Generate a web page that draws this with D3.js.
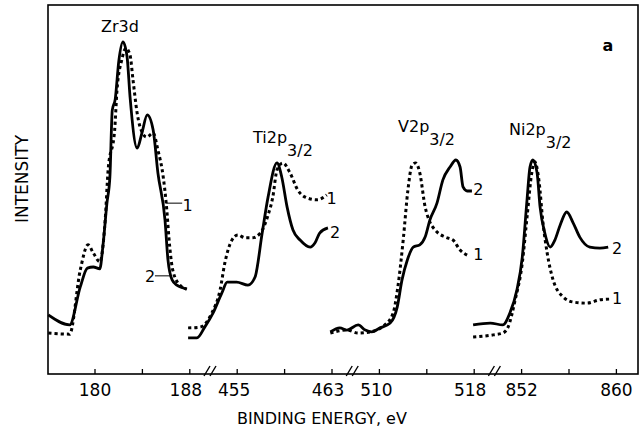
<!DOCTYPE html>
<html>
<head>
<meta charset="utf-8">
<script src="https://cdn.jsdelivr.net/npm/d3@7"></script>
<style>
  html, body { margin: 0; padding: 0; background: #fff; }
  svg { display: block; font-family: "DejaVu Sans", sans-serif; }
</style>
</head>
<body>
<svg id="chart" width="641" height="433"></svg>
<script>
// ---------- DATA ----------
const panelNames = ["Zr3d", "Ti2p", "V2p", "Ni2p"];
const panelSubs = ["", "3/2", "3/2", "3/2"];
const zrTicks = [180, 184, 188];
const tiTicks = [455, 459, 463];
const vTicks = [510, 514, 518];
const niTicks = [852, 856, 860];
const labeledTicks = [180, 188, 455, 463, 510, 518, 852, 860];

// [binding energy (eV), intensity (arb. units)]
const zrCurve1 = [[176.1,11.1],[177.9,10.8],[178.8,28.2],[179.45,35.0],[179.9,32.8],[180.45,30.4],[180.9,41.7],[181.15,55.3],[181.7,66.1],[181.9,77.0],[182.3,85.1],[182.65,88.3],[183.0,86.4],[183.25,79.7],[183.6,70.7],[183.85,66.9],[184.4,64.2],[184.95,65.3],[185.35,60.7],[185.8,53.4],[186.05,46.3],[186.35,34.4],[186.6,28.2],[187.2,24.1],[187.8,23.0]];
const zrCurve2 = [[176.1,16.0],[177.9,13.3],[178.8,23.6],[179.4,28.7],[179.9,29.0],[180.45,28.5],[180.7,34.4],[181.05,46.3],[181.3,53.5],[181.5,71.5],[181.75,74.5],[182.05,84.8],[182.4,90.0],[182.75,85.9],[183.0,75.1],[183.6,61.2],[184.0,65.3],[184.45,70.2],[184.95,66.1],[185.35,54.5],[185.95,41.7],[186.2,30.9],[186.55,25.5],[186.95,24.1],[187.5,23.3],[187.75,23.0]];
const tiCurve1 = [[450.9,12.5],[451.9,12.7],[452.9,16.5],[453.6,22.8],[454.0,30.1],[454.6,36.3],[455.1,37.7],[455.7,36.9],[456.3,36.9],[457.0,38.2],[457.65,43.1],[458.05,48.0],[458.4,55.3],[458.9,57.2],[459.5,54.5],[460.15,49.9],[460.95,47.7],[461.8,47.2],[462.6,48.5]];
const tiCurve2 = [[450.9,9.8],[451.65,9.8],[452.3,12.7],[453.0,16.5],[453.75,22.0],[454.2,24.9],[455.0,24.9],[455.95,24.1],[456.55,26.3],[457.15,38.2],[457.65,48.0],[458.4,57.2],[458.8,53.4],[459.25,45.3],[459.75,39.0],[460.35,36.3],[461.2,34.4],[461.6,35.5],[462.0,38.2],[462.7,39.6]];
const vCurve1 = [[505.9,11.1],[507.3,11.9],[508.25,11.1],[509.25,11.4],[510.5,13.3],[511.2,16.5],[511.6,23.6],[512.05,36.3],[512.45,49.9],[512.8,56.6],[513.1,57.2],[513.45,54.5],[513.9,45.3],[514.3,41.2],[514.75,39.0],[515.6,37.1],[516.25,36.3],[516.85,33.6],[517.45,32.2]];
const vCurve2 = [[505.9,11.4],[506.7,12.5],[507.3,11.9],[508.25,13.3],[508.85,11.9],[509.4,11.4],[510.1,12.5],[510.95,13.8],[511.55,18.2],[511.95,25.5],[512.4,30.9],[512.9,34.4],[513.45,35.0],[513.9,37.1],[514.3,41.7],[514.9,46.3],[515.4,52.6],[516.0,56.1],[516.5,58.0],[516.85,56.1],[517.1,50.7],[517.45,49.6],[517.85,49.6]];
const niCurve1 = [[847.95,10.0],[849.65,10.6],[850.45,11.1],[850.9,12.7],[851.5,20.1],[852.1,30.1],[852.5,42.5],[852.9,54.5],[853.15,57.5],[853.5,52.6],[853.85,40.9],[854.2,32.8],[854.7,25.5],[855.55,20.9],[856.4,19.5],[857.55,19.2],[858.65,20.1],[859.5,20.3]];
const niCurve2 = [[847.95,13.3],[849.4,13.8],[850.45,13.3],[851.05,16.5],[851.65,22.8],[852.1,31.7],[852.5,47.2],[852.75,56.1],[853.0,58.0],[853.35,54.5],[853.6,45.3],[854.0,38.2],[854.45,34.4],[854.85,36.3],[855.3,40.4],[855.85,43.9],[856.4,40.9],[856.95,37.1],[857.8,34.4],[858.65,34.1],[859.35,34.4]];

// ---------- LAYOUT ----------
const svg = d3.select("#chart");
const L = 48, R = 638, T = 5, B = 374;
const unit = 47.4;               // px per 4 eV
const firstTick = L + 46.5;

const y = d3.scaleLinear().domain([0, 100]).range([B, T]);

const panels = [
  {ticks: zrTicks, c1: zrCurve1, c2: zrCurve2},
  {ticks: tiTicks, c1: tiCurve1, c2: tiCurve2},
  {ticks: vTicks,  c1: vCurve1,  c2: vCurve2},
  {ticks: niTicks, c1: niCurve1, c2: niCurve2}
];
panels.forEach((p, i) => {
  const x0 = firstTick + i * 3 * unit;
  p.x = d3.scaleLinear().domain([p.ticks[0], p.ticks[2]]).range([x0, x0 + 2 * unit]);
});

// frame
svg.append("rect").attr("x", L).attr("y", T).attr("width", R - L).attr("height", B - T)
  .attr("fill", "none").attr("stroke", "#000").attr("stroke-width", 1.6);

// axes
panels.forEach((p, i) => {
  const ax = d3.axisBottom(p.x).tickValues(p.ticks)
    .tickSizeInner(-5).tickSizeOuter(0).tickPadding(10)
    .tickFormat(d => labeledTicks.includes(d) ? d : "");
  const g = svg.append("g").attr("transform", `translate(0,${B})`).call(ax);
  g.select(".domain").remove();
  g.selectAll(".tick line").attr("stroke", "#000").attr("stroke-width", 1.3);
  g.selectAll(".tick text").attr("font-size", 17).attr("fill", "#000")
    .attr("font-family", "DejaVu Sans, sans-serif")
    .attr("dx", d => (d === p.ticks[2] && i < 3) ? -4 : (d === p.ticks[0] && i > 0 && i < 3) ? -3 : 0);
});

// axis break marks
for (let i = 0; i < 3; i++) {
  const a = panels[i].x(panels[i].ticks[2]), b = panels[i + 1].x(panels[i + 1].ticks[0]);
  const mid = (a + b) / 2 - 3;
  [-3, 3].forEach(off => {
    svg.append("line")
      .attr("x1", mid + off - 3).attr("y1", B + 2)
      .attr("x2", mid + off + 3).attr("y2", B - 8)
      .attr("stroke", "#000").attr("stroke-width", 1.4);
  });
}

// curves
panels.forEach(p => {
  const line = d3.line().x(d => p.x(d[0])).y(d => y(d[1])).curve(d3.curveMonotoneX);
  svg.append("path").datum(p.c1).attr("d", line)
    .attr("fill", "none").attr("stroke", "#000").attr("stroke-width", 3)
    .attr("stroke-dasharray", "3.2 3");
  svg.append("path").datum(p.c2).attr("d", line)
    .attr("fill", "none").attr("stroke", "#000").attr("stroke-width", 2.8)
    .attr("stroke-linejoin", "round");
});

// curve labels
function numLabel(px, py, t) {
  svg.append("text").attr("x", px).attr("y", py).attr("dy", "0.36em")
    .attr("font-size", 16).attr("text-anchor", "middle").text(t);
}
function leader(x1, x2, py) {
  svg.append("line").attr("x1", x1).attr("x2", x2).attr("y1", py).attr("y2", py)
    .attr("stroke", "#000").attr("stroke-width", 1);
}
// Zr
const zx = panels[0].x;
leader(zx(186.05), zx(187.4), y(46.3));
numLabel(zx(187.85), y(45.6), "1");
leader(zx(185.1), zx(186.4), y(26.6));
numLabel(zx(184.7), y(26.6), "2");
// Ti
numLabel(panels[1].x(463.0), y(47.7), "1");
numLabel(panels[1].x(463.3), y(38.5), "2");
// V
numLabel(panels[2].x(518.4), y(50.0), "2");
numLabel(panels[2].x(518.4), y(32.5), "1");
// Ni
numLabel(panels[3].x(860.1), y(34.2), "2");
numLabel(panels[3].x(860.1), y(20.5), "1");

// panel titles
const titlePos = [[120, 32, "middle"], [253, 143, "start"], [398, 132, "start"], [509, 135, "start"]];
panelNames.forEach((n, i) => {
  const t = svg.append("text").attr("x", titlePos[i][0]).attr("y", titlePos[i][1])
    .attr("font-size", 16).attr("text-anchor", titlePos[i][2]).text(n);
  if (panelSubs[i]) t.append("tspan").attr("dy", 13).text(panelSubs[i]);
});

// letter
svg.append("text").attr("x", 608).attr("y", 51).attr("font-size", 16)
  .attr("font-weight", "bold").attr("text-anchor", "middle").text("a");

// axis titles
svg.append("text").attr("transform", `translate(28,179) rotate(-90)`)
  .attr("font-size", 17).attr("text-anchor", "middle").text("INTENSITY");
svg.append("text").attr("x", 322).attr("y", 424).attr("font-size", 16)
  .attr("text-anchor", "middle").text("BINDING ENERGY, eV");
</script>
</body>
</html>
